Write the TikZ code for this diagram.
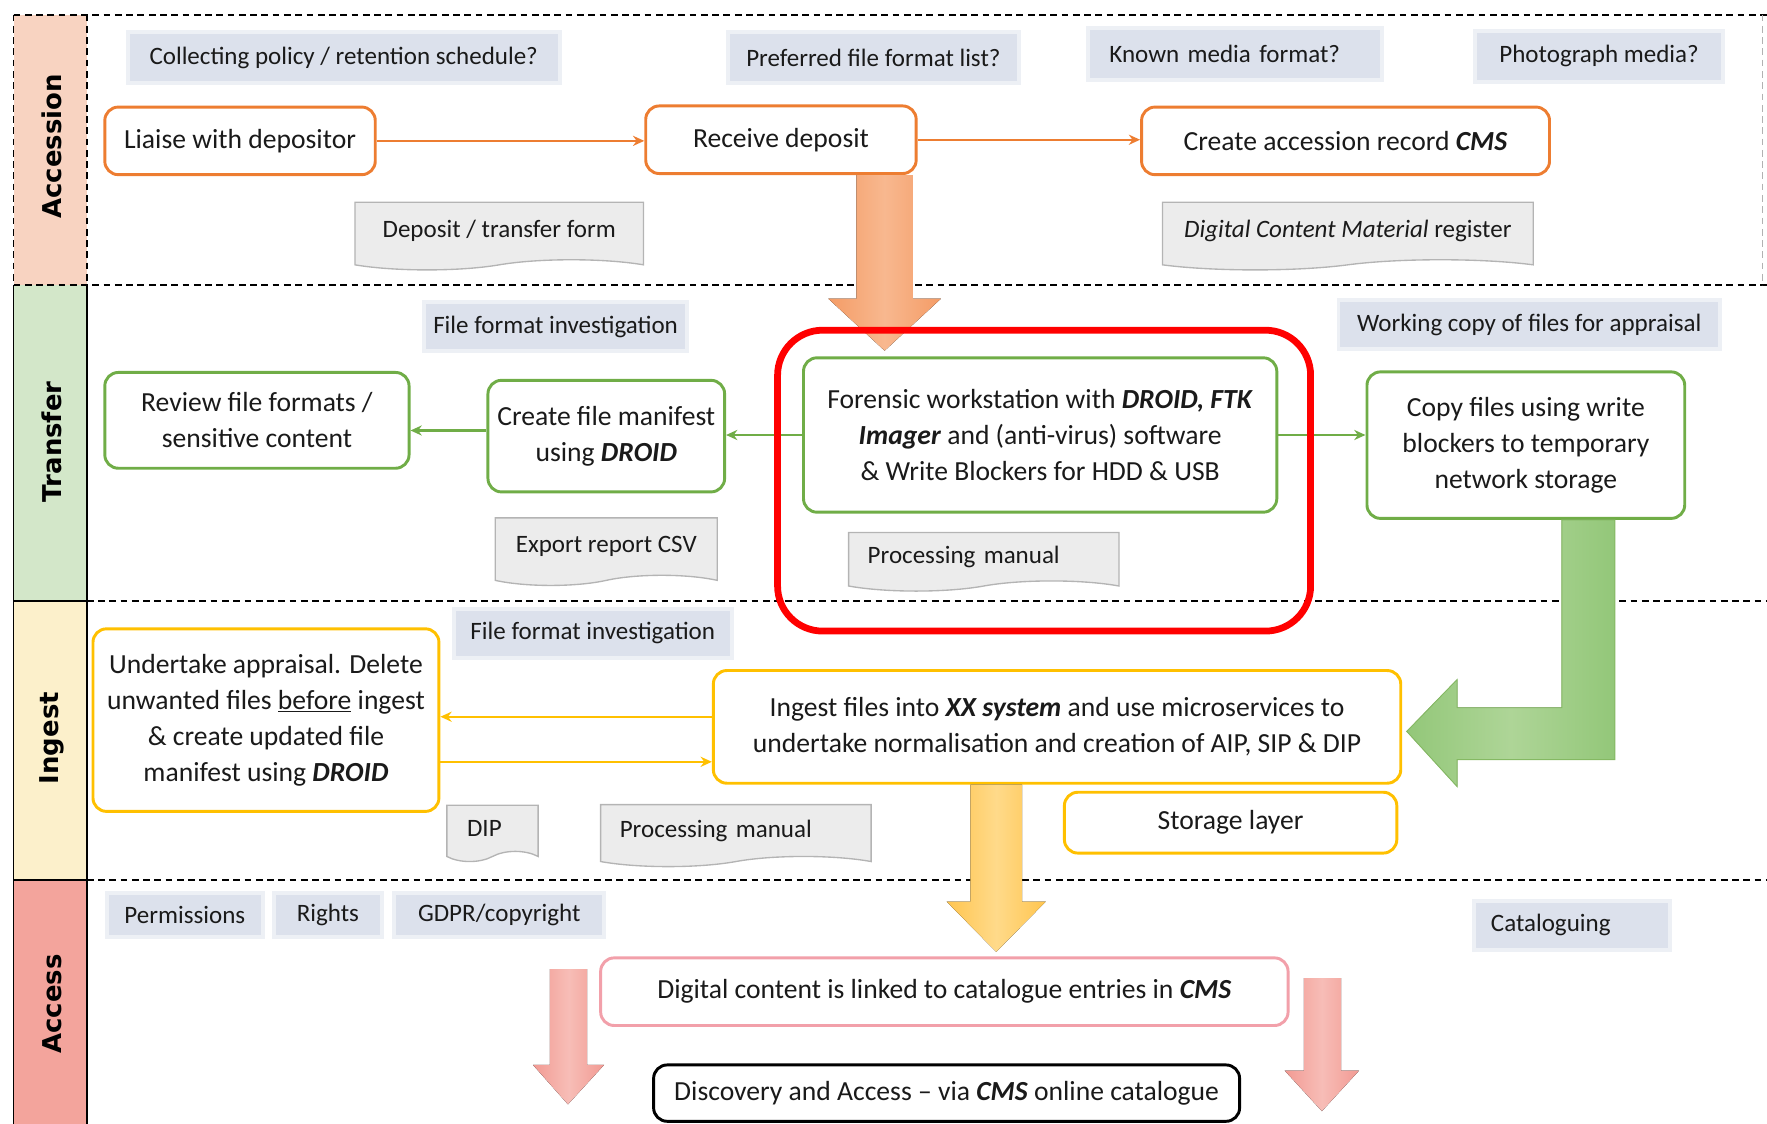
\documentclass[tikz,border=0pt]{standalone}
\usepackage{fontspec}
\setmainfont{Carlito}
\newfontfamily\lanefont{DejaVu Sans}
\usetikzlibrary{shapes.symbols,arrows.meta,calc}
\definecolor{orA}{HTML}{ED7D31}
\definecolor{grA}{HTML}{70AD47}
\definecolor{yeA}{HTML}{FFC000}
\definecolor{pkA}{HTML}{F2A0AA}
\definecolor{qfill}{HTML}{DCE1EC}
\definecolor{docfill}{HTML}{ECECEC}
\definecolor{docline}{HTML}{B4B4B4}
\definecolor{hAcc}{HTML}{F8D3C1}
\definecolor{hTra}{HTML}{D3E7C9}
\definecolor{hIng}{HTML}{FCF0CB}
\definecolor{hAcs}{HTML}{F3A49C}
\definecolor{txt}{HTML}{1A1A1A}
\definecolor{orE}{HTML}{F49C66}
\definecolor{orM}{HTML}{F8B88F}
\definecolor{grE}{HTML}{93C779}
\definecolor{grM}{HTML}{AED597}
\definecolor{yeE}{HTML}{FFC54F}
\definecolor{yeM}{HTML}{FFDA8A}
\definecolor{pkE}{HTML}{F29A93}
\definecolor{pkM}{HTML}{F7BDB7}
\begin{document}
\begin{tikzpicture}[x=1pt,y=-1pt,
  every node/.style={text=txt},
  box/.style={rounded corners=12pt, fill=white, line width=2.6pt, font=\fontsize{24.5}{32}\selectfont, align=center, inner sep=0pt},
  obox/.style={box, draw=orA},
  gbox/.style={box, draw=grA},
  ybox/.style={box, draw=yeA},
  ques/.style={fill=qfill, draw=qfill, draw opacity=0.5, line width=7pt, font=\fontsize{22.2}{26}\selectfont, inner sep=0pt},
  doc/.style={tape, tape bend top=none, tape bend height=9pt, fill=docfill, draw=docline, line width=1.2pt, font=\fontsize{22.2}{26}\selectfont, inner sep=0pt},
  lane/.style={font=\lanefont\bfseries\fontsize{23}{27}\selectfont, rotate=90, text=black},
  sep/.style={line width=1.6pt, dash pattern=on 6pt off 4pt, color=black},
  solidsep/.style={line width=1.6pt, color=black},
  conn/.style={line width=2pt, -{Stealth[length=10pt,width=9pt]}},
]
\useasboundingbox (0,0) rectangle (1568,997);

% lane headers
\fill[hAcc] (12,13) rectangle (77,253);
\fill[hTra] (12,253) rectangle (77,533);
\fill[hIng] (12,533) rectangle (77,781);
\fill[hAcs] (12,781) rectangle (77,997);

% separators
\draw[sep] (12,13) -- (1568,13);
\draw[sep] (12,253) -- (1568,253);
\draw[solidsep] (12,533) -- (77,533);
\draw[sep] (77,533) -- (1568,533);
\draw[solidsep] (12,781) -- (77,781);
\draw[sep] (77,781) -- (1568,781);
\draw[sep] (12,13) -- (12,253);
\draw[sep] (77,13) -- (77,253);
\draw[solidsep] (12,253) -- (12,997);
\draw[solidsep] (77,253) -- (77,997);
\draw[sep, color=black!30, line width=1pt] (1564,13) -- (1564,253);

% lane labels
\node[lane] (lAcc) at (46,130) {Accession};
\node[lane] (lTra) at (46,392) {Transfer};
\node[lane] (lIng) at (46,655) {Ingest};
\node[lane] (lAcs) at (46,891) {Access};

% ===== Accession =====
\node[ques, minimum width=380, minimum height=42] (q1) at (305,51) {Collecting policy / retention schedule?};
\node[ques, minimum width=255, minimum height=42] (q2) at (775,51) {Preferred file format list?};
\node[ques, minimum width=257, minimum height=43, text width=223, align=left] (q3) at (1096,48) {Known media format?};
\node[ques, minimum width=216, minimum height=42] (q4) at (1419,50) {Photograph media?};

\node[obox, minimum width=240, minimum height=60] (lia) at (213,125) {Liaise with depositor};
\node[obox, minimum width=240, minimum height=60] (rec) at (693,124) {Receive deposit};
\node[obox, minimum width=362, minimum height=60] (acr) at (1194,125) {Create accession record \textbf{\textit{CMS}}};

\node[doc, minimum width=256, minimum height=60] (d1) at (443,205) {Deposit / transfer form};
\node[doc, minimum width=329, minimum height=60] (d2) at (1196,205) {\textit{Digital Content Material} register};

\draw[conn, orA] (lia.east) -- (lia.east -| rec.west);
\draw[conn, orA] (rec.east) -- (rec.east -| acr.west);

% ===== Transfer =====
\node[ques, minimum width=230, minimum height=40] (q5) at (493,290) {File format investigation};
\node[ques, minimum width=335, minimum height=40] (q6) at (1357,288) {Working copy of files for appraisal};

\node[gbox, minimum width=270, minimum height=85] (rev) at (228,373) {Review file formats /\\sensitive content};
\node[gbox, minimum width=210, minimum height=99] (man) at (538,387) {Create file manifest\\using \textbf{\textit{DROID}}};
\node[gbox, minimum width=420, minimum height=137] (for) at (923,386) {Forensic workstation with \textbf{\textit{DROID, FTK}}\\\textbf{\textit{Imager}} and (anti-virus) software\\\& Write Blockers for HDD \& USB};
\node[gbox, minimum width=282, minimum height=130] (cop) at (1354,395) {Copy files using write\\blockers to temporary\\network storage};

\node[doc, minimum width=197, minimum height=60] (d3) at (538,485) {Export report CSV};
\node[doc, minimum width=240, minimum height=52, text width=206, align=left] (d4) at (873,494) {Processing manual};

\draw[conn, grA] (for.west) -- (for.west -| man.east);
\draw[conn, grA] ([yshift=5pt]man.west) -- ([yshift=5pt]man.west -| rev.east);
\draw[conn, grA] (for.east) -- (for.east -| cop.west);

% ===== Ingest =====
\node[ques, minimum width=243, minimum height=40] (q7) at (526,562) {File format investigation};

\node[ybox, minimum width=307, minimum height=162] (und) at (236,639) {Undertake appraisal. Delete\\unwanted files \underline{before} ingest\\\& create updated file\\manifest using \textbf{\textit{DROID}}};
\node[ybox, minimum width=610, minimum height=100] (ing) at (938,645) {Ingest files into \textbf{\textit{XX system}} and use microservices to\\undertake normalisation and creation of AIP, SIP \& DIP};
\node[ybox, minimum width=295, minimum height=54] (sto) at (1092,730) {Storage layer};

\node[doc, minimum width=81, minimum height=50, text width=45, align=left] (d5) at (437,735) {DIP};
\node[doc, minimum width=240, minimum height=55, text width=206, align=left] (d6) at (653,737) {Processing manual};

\draw[conn, yeA] ([yshift=9pt]ing.west) -- ([yshift=9pt]ing.west -| und.east);
\draw[conn, yeA] ([yshift=-31pt]ing.west -| und.east) -- ([yshift=-31pt]ing.west);

% ===== Access =====
\node[ques, minimum width=135, minimum height=35] (q8) at (164,812) {Permissions};
\node[ques, minimum width=92, minimum height=35] (q9) at (291,812) {Rights};
\node[ques, minimum width=183, minimum height=35] (q10) at (443,812) {GDPR/copyright};
\node[ques, minimum width=170, minimum height=40, text width=144, align=left] (q11) at (1395,821) {Cataloguing};

\node[box, draw=pkA, minimum width=610, minimum height=60] (dig) at (838,880) {Digital content is linked to catalogue entries in \textbf{\textit{CMS}}};
\node[box, draw=black, minimum width=520, minimum height=50] (dis) at (840,970) {Discovery and Access \textendash{} via \textbf{\textit{CMS}} online catalogue};

% ===== block arrows =====
\fill[left color=orE, right color=orE, middle color=orM]
  let \p1=(rec.south), \p2=(for.north) in
  (760,\y1) -- (810,\y1) -- (810,265) -- (835,265) -- (785,\y2+5pt) -- (735,265) -- (760,265) -- cycle;

\filldraw[left color=grE, right color=grE, middle color=grM, draw=grA!85, line width=0.8pt]
  let \p1=(cop.south), \p2=(ing.east) in
  (1386,\y1) -- (1433,\y1) -- (1433,674) -- (1293,674) -- (1293,698) -- (\x2+4pt,649)
  -- (1293,603) -- (1293,628) -- (1386,628) -- cycle;

\fill[left color=yeE, right color=yeE, middle color=yeM]
  let \p1=(ing.south), \p2=(dig.north) in
  (861,\y1) -- (907,\y1) -- (907,800) -- (928,800) -- (884,\y2+4pt) -- (840,800) -- (861,800) -- cycle;

\fill[left color=pkE, right color=pkE, middle color=pkM]
  (488,860) -- (521,860) -- (521,945) -- (536,945) -- (504,980) -- (473,945) -- (488,945) -- cycle;
\fill[left color=pkE, right color=pkE, middle color=pkM]
  (1157,868) -- (1190,868) -- (1190,950) -- (1206,950) -- (1173,986) -- (1140,950) -- (1157,950) -- cycle;

% highlight
\node[draw=red, line width=6pt, rounded corners=40pt, minimum width=473, minimum height=267, inner sep=0pt] (hl) at (926.5,426.5) {};
\end{tikzpicture}
\end{document}
